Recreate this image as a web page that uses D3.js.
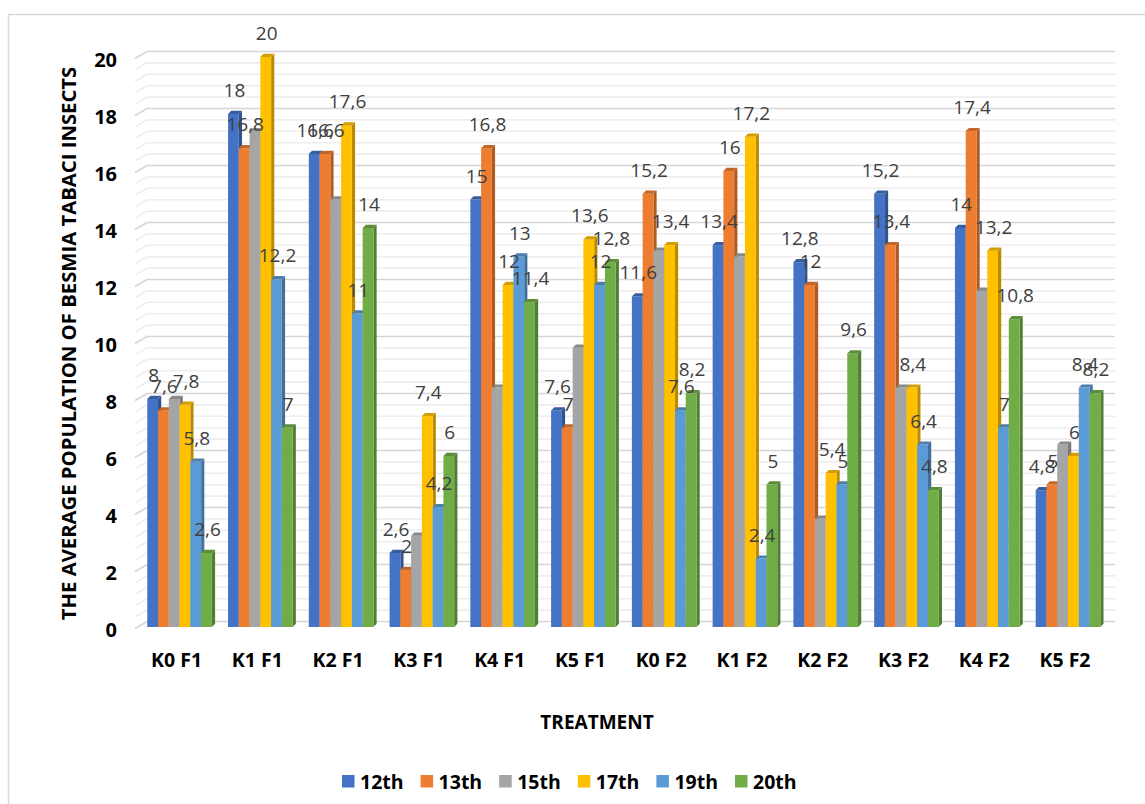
<!DOCTYPE html>
<html>
<head>
<meta charset="utf-8">
<script src="https://cdn.jsdelivr.net/npm/d3@7"></script>
<style>
  html, body { margin: 0; padding: 0; background: #ffffff; }
  svg { display: block; }
  text { font-family: "Open Sans", "Liberation Sans", sans-serif; }
</style>
</head>
<body>
<div id="chart"></div>
<script>
// Treatments on the category axis
const categories = ["K0 F1", "K1 F1", "K2 F1", "K3 F1", "K4 F1", "K5 F1",
                    "K0 F2", "K1 F2", "K2 F2", "K3 F2", "K4 F2", "K5 F2"];

// Observation days (series)
const seriesNames = ["12th", "13th", "15th", "17th", "19th", "20th"];
const seriesColors = ["#4472C4", "#ED7D31", "#A5A5A5", "#FFC000", "#5B9BD5", "#70AD47"];

// Average population per treatment, one array per observation day
const day12 = [8, 18, 16.6, 2.6, 15, 7.6, 11.6, 13.4, 12.8, 15.2, 14, 4.8];
const day13 = [7.6, 16.8, 16.6, 2, 16.8, 7, 15.2, 16, 12, 13.4, 17.4, 5];
const day15 = [8, 17.4, 15, 3.2, 8.4, 9.8, 13.2, 13, 3.8, 8.4, 11.8, 6.4];
const day17 = [7.8, 20, 17.6, 7.4, 12, 13.6, 13.4, 17.2, 5.4, 8.4, 13.2, 6];
const day19 = [5.8, 12.2, 11, 4.2, 13, 12, 7.6, 2.4, 5, 6.4, 7, 8.4];
const day20 = [2.6, 7, 14, 6, 11.4, 12.8, 8.2, 5, 9.6, 4.8, 10.8, 8.2];
const seriesValues = [day12, day13, day15, day17, day19, day20];

// Series whose data labels are shown
const labelled = [true, true, false, true, true, true];

// Value axis ticks
const yTicks = [0, 2, 4, 6, 8, 10, 12, 14, 16, 18, 20];
const yMinorStep = 0.4;

const W = 1145, H = 804;
const svg = d3.select("#chart").append("svg")
  .attr("width", W).attr("height", H);

svg.append("rect").attr("width", W).attr("height", H).attr("fill", "#ffffff");

// chart frame
svg.append("rect")
  .attr("x", 8.5).attr("y", 14.5)
  .attr("width", 1160).attr("height", 820)
  .attr("fill", "none").attr("stroke", "#d9d9d9").attr("stroke-width", 1.5);

const y = d3.scaleLinear().domain([0, 20]).range([627, 57]);

const x0 = d3.scaleBand().domain(categories)
  .range([139.2, 1108.4]).paddingInner(0.2).paddingOuter(0.1);
const x1 = d3.scaleBand().domain(seriesNames).range([0, x0.bandwidth()]);

// 3D offsets
const depthX = 3.2, depthY = 3.2;       // bar side / top
const wallX = 12, wallYf = 1.5, wallYb = -5.5; // side wall of the plot
const gridLeft = 135, gridRight = 1115;

// gridlines: minor first, then major
const minorVals = d3.range(0, 20.0001, yMinorStep).filter(v => Math.abs(v / 2 - Math.round(v / 2)) > 1e-6);
const grid = svg.append("g");
function gridLine(v, color) {
  const yy = y(v);
  grid.append("path")
    .attr("d", `M${gridLeft},${yy + wallYf} L${gridLeft + wallX},${yy + wallYb} L${gridRight},${yy + wallYb}`)
    .attr("fill", "none").attr("stroke", color).attr("stroke-width", 1.6);
}
minorVals.forEach(v => gridLine(v, "#eeeeee"));
yTicks.forEach(v => gridLine(v, "#d6d6d6"));

// y tick labels via axis generator
const yAxis = d3.axisLeft(y).tickValues(yTicks).tickSize(0).tickPadding(0).tickFormat(d3.format("d"));
const yAxisG = svg.append("g").attr("transform", "translate(117,3)").call(yAxis);
yAxisG.select(".domain").remove();
yAxisG.selectAll("text")
  .attr("font-family", "'Open Sans', sans-serif")
  .attr("font-size", 20).attr("font-weight", "bold").attr("fill", "#000000");

// bars
const fmt = v => String(v).replace(".", ",");
const bars = svg.append("g");
categories.forEach((cat, ci) => {
  const g = bars.append("g").attr("transform", `translate(${x0(cat)},0)`);
  seriesNames.forEach((s, si) => {
    const v = seriesValues[si][ci];
    const bx = x1(s), bw = x1.bandwidth();
    const top = y(v), base = y(0);
    const c = d3.color(seriesColors[si]);
    // side face
    g.append("path")
      .attr("d", `M${bx + bw},${top} L${bx + bw + depthX},${top - depthY} L${bx + bw + depthX},${base - depthY} L${bx + bw},${base} Z`)
      .attr("fill", c.darker(0.9));
    // front face
    g.append("rect")
      .attr("x", bx).attr("y", top)
      .attr("width", bw).attr("height", base - top)
      .attr("fill", c);
    // top face
    g.append("path")
      .attr("d", `M${bx},${top} L${bx + depthX},${top - depthY} L${bx + bw + depthX},${top - depthY} L${bx + bw},${top} Z`)
      .attr("fill", c.darker(0.55));
  });
});

// data labels
const labels = svg.append("g");
categories.forEach((cat, ci) => {
  seriesNames.forEach((s, si) => {
    if (!labelled[si]) return;
    const v = seriesValues[si][ci];
    labels.append("text")
      .attr("x", x0(cat) + x1(s) + x1.bandwidth() / 2 + 1)
      .attr("y", y(v) - 17)
      .attr("text-anchor", "middle")
      .attr("font-size", 19)
      .attr("fill", "#404040")
      .text(fmt(v));
  });
});

// category labels
const xAxis = d3.axisBottom(x0).tickSize(0).tickPadding(0);
const xAxisG = svg.append("g").attr("transform", "translate(-3,653)").call(xAxis);
xAxisG.select(".domain").remove();
xAxisG.selectAll("text")
  .attr("font-family", "'Open Sans', sans-serif")
  .attr("font-size", 19.5).attr("font-weight", "bold").attr("fill", "#000000")
  .attr("dy", "0.71em");

// axis titles
svg.append("text")
  .attr("x", 597).attr("y", 729)
  .attr("text-anchor", "middle")
  .attr("font-size", 19).attr("font-weight", "bold").attr("fill", "#000000")
  .text("TREATMENT");

svg.append("text")
  .attr("transform", "translate(76,343.5) rotate(-90)")
  .attr("text-anchor", "middle")
  .attr("font-size", 20.3).attr("font-weight", "bold").attr("fill", "#000000")
  .text("THE AVERAGE POPULATION OF BESMIA TABACI INSECTS");

// legend
const legend = svg.append("g").attr("transform", "translate(342,775)");
seriesNames.forEach((s, si) => {
  const lg = legend.append("g").attr("transform", `translate(${si * 78.6},0)`);
  lg.append("rect").attr("width", 12.5).attr("height", 12.5).attr("fill", seriesColors[si]);
  lg.append("text")
    .attr("x", 18).attr("y", 13.5)
    .attr("font-size", 19.5).attr("font-weight", "bold").attr("fill", "#000000")
    .text(s);
});
</script>
</body>
</html>
